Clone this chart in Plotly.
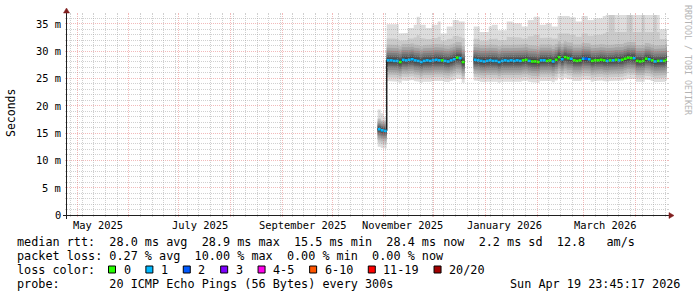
import math
import plotly.graph_objects as go
from datetime import datetime, timedelta

# ---------------- data ----------------
END = datetime(2026, 4, 19, 23, 45, 17)
START = END - timedelta(days=360)

T_FIRST = datetime(2025, 10, 28, 9, 50)
STEP = timedelta(hours=43.2)
EARLY_STEPS = 3

median_ms = [15.7, 15.5, 15.4,
             28.3, 28.3, 28.2, 28.2, 28.0, 28.4, 28.3, 28.4, 28.5, 28.3, 28.2, 28.0, 28.2,
             28.3, 28.2, 28.3, 28.4, 28.3, 28.3, 28.2, 28.1, 28.3, 28.5, 28.8, 28.7, 28.0,
             None, None, None,
             28.4, 28.3, 28.2, 28.1, 28.2, 28.3, 28.2, 28.2, 28.0, 28.2, 28.3, 28.2, 28.3,
             28.2, 28.3, 28.2, 28.3, 28.4, 28.2, 28.1, 28.1, 28.0, 28.3, 28.3, 28.2, 28.3,
             28.1, 28.4, 28.9, 28.5, 28.9, 28.7, 28.6, 28.3, 28.2, 28.3, 28.6, 28.6, 28.5,
             28.2, 28.3, 28.3, 28.4, 28.3, 28.2, 28.3, 28.3, 28.4, 28.3, 28.4, 28.6, 28.8,
             28.7, 28.7, 28.2, 28.1, 28.2, 28.6, 28.5, 28.3, 28.1, 28.2, 28.2, 28.2, 28.4]

loss_count = [1, 1, 1,
              1, 1, 1, 1, 0, 1, 1, 1, 1, 1, 1, 1, 1,
              1, 1, 1, 1, 1, 0, 1, 1, 1, 1, 0, 1, 0,
              None, None, None,
              1, 1, 1, 1, 1, 1, 1, 1, 1, 1, 1, 1, 1,
              1, 1, 1, 0, 0, 1, 0, 0, 0, 1, 1, 0, 0,
              1, 0, 0, 1, 0, 0, 1, 0, 0, 0, 1, 2, 1,
              0, 0, 0, 0, 0, 1, 0, 1, 0, 1, 0, 0, 0,
              0, 1, 0, 0, 0, 0, 1, 0, 1, 0, 1, 0, 0]

ping_max_ms = [19.3, 18.6, 18.0,
               34.9, 34.9, 34.9, 34.9, 33.2, 33.2, 33.3, 34.2, 34.2, 34.8, 36.3, 34.8, 34.8,
               34.2, 34.2, 34.8, 34.8, 35.4, 33.2, 33.2, 34.5, 34.5, 35.7, 35.7, 35.4, 35.4,
               None, None, None,
               34.5, 34.5, 33.5, 33.5, 33.5, 34.5, 34.8, 34.8, 33.8, 33.8, 33.8, 35.4, 35.4,
               35.1, 35.1, 35.1, 34.5, 34.5, 35.7, 35.7, 36.3, 36.3, 34.8, 34.8, 35.1, 35.1,
               34.5, 34.5, 36.4, 36.4, 36.4, 36.4, 36.2, 36.2, 35.4, 35.4, 36.4, 36.4, 35.7,
               35.7, 36.0, 36.0, 36.0, 36.4, 37.5, 37.5, 37.5, 37.5, 37.5, 37.5, 37.5, 37.5,
               37.5, 37.5, 37.5, 37.5, 37.5, 37.5, 37.5, 37.5, 37.5, 37.5, 34.0, 34.0, 34.0]

ping19_ms = [17.7, 17.2, 16.9,
             32.3, 32.4, 32.3, 32.2, 31.9, 31.9, 32.0, 32.3, 32.3, 32.5, 32.9, 32.4, 32.3,
             32.2, 32.2, 32.4, 32.4, 32.6, 31.9, 31.9, 32.2, 32.3, 32.7, 32.8, 32.6, 32.4,
             None, None, None,
             32.3, 32.2, 31.9, 31.9, 31.9, 32.2, 32.3, 32.3, 32.0, 32.0, 32.0, 32.6, 32.6,
             32.5, 32.5, 32.5, 32.3, 32.3, 32.7, 32.7, 33.0, 33.0, 32.4, 32.4, 32.5, 32.5,
             32.3, 32.3, 33.2, 33.2, 33.2, 33.2, 33.0, 33.0, 32.6, 32.6, 33.2, 33.2, 32.8,
             32.8, 33.0, 33.0, 33.0, 33.2, 33.5, 37.5, 37.5, 33.5, 33.5, 33.5, 33.5, 37.5,
             37.5, 33.5, 33.5, 33.5, 37.5, 33.5, 33.5, 33.5, 37.5, 33.5, 32.2, 32.2, 32.2]

# typical sorted pings 1..18, relative to the median (from the smoke shading)
early_offsets = [-3.2, -2.5, -2.0, -1.6, -1.3, -1.0, -0.75, -0.5, -0.3, -0.1,
                 0.1, 0.3, 0.5, 0.7, 0.9, 1.15, 1.45, 1.8]
main_offsets = [-3.8, -3.1, -2.6, -2.1, -1.7, -1.3, -1.0, -0.7, -0.4, -0.15,
                0.15, 0.4, 0.7, 1.0, 1.4, 1.8, 2.3, 2.9]

loss_classes = ["0", "1", "2", "3", "4-5", "6-10", "11-19", "20/20"]
loss_lo = [0, 1, 2, 3, 4, 6, 11, 20]
loss_hi = [0, 1, 2, 3, 5, 10, 19, 20]
loss_colors = ["#26ff00", "#00b8ff", "#0059ff", "#7e00ff", "#ff00ea", "#ff5500", "#ff0000", "#a10000"]

y_tick_vals = [0, 5, 10, 15, 20, 25, 30, 35]
y_tick_text = ["0", "5 m", "10 m", "15 m", "20 m", "25 m", "30 m", "35 m"]

x_label_text = ["May 2025", "July 2025", "September 2025", "November 2025", "January 2026", "March 2026"]
x_label_pos = ["2025-05-13 12:00", "2025-07-13 12:00", "2025-09-13 12:00",
               "2025-11-12 12:00", "2026-01-12 12:00", "2026-03-14 00:00"]

legend_line1 = "median rtt:  28.0 ms avg  28.9 ms max  15.5 ms min  28.4 ms now  2.2 ms sd  12.8   am/s"
legend_line2 = "packet loss: 0.27 % avg  10.00 % max  0.00 % min  0.00 % now"
legend_line3_head = "loss color:"
legend_line4 = "probe:       20 ICMP Echo Pings (56 Bytes) every 300s"
stamp_text = "Sun Apr 19 23:45:17 2026"
side_text = "RRDTOOL / TOBI OETIKER"

# ---------------- layout geometry ----------------
W, H = 697, 297
L, T, PW, PH = 67, 15, 600, 200
Y0 = T + PH
Y_MAX = 36.6
MONO = "DejaVu Sans Mono"

GRID_MINOR = "rgba(150,150,150,0.45)"
GRID_MAJOR = "rgba(225,90,90,0.42)"
AXIS_COL = "#1f1f1f"
ARROW_COL = "#801f1f"


def pxx(px):
    return (px - L) / PW


def pxy(py):
    return (Y0 - py) / PH


def date_px(d):
    return L + (d - START).total_seconds() / (END - START).total_seconds() * PW


def val_py(v):
    return Y0 - v / Y_MAX * PH


n = len(median_ms)
times = [T_FIRST + i * STEP for i in range(n + 1)]


def pings(i):
    offs = early_offsets if i < EARLY_STEPS else main_offsets
    return [median_ms[i] + o for o in offs] + [ping19_ms[i], ping_max_ms[i]]


def segments():
    i = 0
    while i < n:
        if median_ms[i] is None:
            i += 1
            continue
        j = i
        while j < n and median_ms[j] is not None:
            j += 1
        yield i, j
        i = j


fig = go.Figure()

# smoke: 10 bands, outer (light) to inner (dark)
for k in range(10):
    grey = int(190 / 10 * (10 - (k + 1))) + 50
    col = "#%02x%02x%02x" % (grey, grey, grey)
    xs, ys = [], []
    for a, b in segments():
        ux, uy, lx, ly = [], [], [], []
        for m in range(a, b):
            p = pings(m)
            ux += [times[m], times[m + 1]]
            uy += [p[19 - k], p[19 - k]]
            lx += [times[m], times[m + 1]]
            ly += [p[k], p[k]]
        xs += ux + lx[::-1] + [None]
        ys += uy + ly[::-1] + [None]
    fig.add_trace(go.Scatter(x=xs, y=ys, mode="lines", fill="toself", fillcolor=col,
                             line=dict(width=0, color=col), hoverinfo="skip", showlegend=False))

# thin dark median line
mx, my = [], []
for a, b in segments():
    for m in range(a, b):
        mx.append(times[m])
        my.append(median_ms[m])
    mx.append(times[b])
    my.append(median_ms[b - 1])
    mx.append(None)
    my.append(None)
fig.add_trace(go.Scatter(x=mx, y=my, mode="lines", line=dict(color="#202020", width=1, shape="hv"),
                         hoverinfo="skip", showlegend=False))
fig.add_trace(go.Scatter(x=[times[EARLY_STEPS], times[EARLY_STEPS]],
                         y=[median_ms[EARLY_STEPS - 1], median_ms[EARLY_STEPS]], mode="lines",
                         line=dict(color="#202020", width=1.3), hoverinfo="skip", showlegend=False))

# colored median by loss
for c in range(len(loss_classes)):
    cx, cy = [], []
    for m in range(n):
        if loss_count[m] is None:
            continue
        if loss_lo[c] <= loss_count[m] <= loss_hi[c]:
            cx += [times[m], times[m + 1], None]
            cy += [median_ms[m], median_ms[m], None]
    if cx:
        fig.add_trace(go.Scatter(x=cx, y=cy, mode="lines", line=dict(color=loss_colors[c], width=2.6),
                                 hoverinfo="skip", showlegend=False))

# ---------------- axes ----------------
fig.update_xaxes(type="date", range=[START, END], showticklabels=False, showgrid=False,
                 ticks="", zeroline=False, showline=False, fixedrange=True)
fig.update_yaxes(range=[0, Y_MAX], showticklabels=False, showgrid=False, ticks="",
                 zeroline=False, showline=False, fixedrange=True)

shapes = []


def seg(x0, y0, x1, y1, color, dash=None):
    line = dict(color=color, width=1)
    if dash:
        line["dash"] = dash
    shapes.append(dict(type="line", xref="paper", yref="paper", x0=pxx(x0), x1=pxx(x1),
                       y0=pxy(y0), y1=pxy(y1), line=line, layer="above"))


# grid positions
month_starts = []
d = datetime(2025, 5, 1)
while d < END:
    month_starts.append(d)
    d = datetime(d.year + (d.month // 12), d.month % 12 + 1, 1)
sundays = []
d = datetime(2025, 4, 27)
while d < END:
    if d not in month_starts:
        sundays.append(d)
    d += timedelta(days=7)

# horizontal grid (1 ms minor, 5 ms major)
for v in range(1, int(Y_MAX) + 1):
    major = v % 5 == 0
    col = GRID_MAJOR if major else GRID_MINOR
    py = math.floor(val_py(v)) + 0.5
    seg(L - 2, py, L, py, col)
    seg(L + PW, py, L + PW + 2, py, col)
    seg(L, py, L + PW, py, col, "1px,1px")

# vertical grid (weekly minor, monthly major)
for group, col in ((sundays, GRID_MINOR), (month_starts, GRID_MAJOR)):
    for d in group:
        px = math.floor(date_px(d)) + 0.5
        seg(px, Y0 + 2, px, Y0, col)
        seg(px, T, px, T - 2, col)
        seg(px, Y0, px, T, col, "1px,1px")

# axis lines
seg(L - 4, Y0 + 0.5, L + PW + 4, Y0 + 0.5, AXIS_COL)
seg(L - 0.5, Y0 + 4, L - 0.5, T - 4, AXIS_COL)
# arrows
shapes.append(dict(type="path", xref="paper", yref="paper", layer="above",
                   path="M %f %f L %f %f L %f %f Z" % (pxx(L - 3.5), pxy(T - 2), pxx(L + 2.5), pxy(T - 2),
                                                       pxx(L - 0.5), pxy(T - 7)),
                   fillcolor=ARROW_COL, line=dict(color=ARROW_COL, width=0.5)))
shapes.append(dict(type="path", xref="paper", yref="paper", layer="above",
                   path="M %f %f L %f %f L %f %f Z" % (pxx(L + PW + 2), pxy(Y0 - 2.5), pxx(L + PW + 2),
                                                       pxy(Y0 + 3.5), pxx(L + PW + 7), pxy(Y0 + 0.5)),
                   fillcolor=ARROW_COL, line=dict(color=ARROW_COL, width=0.5)))

annotations = []


def text_at(px, py, s, size=11.8, anchor="left", color="#000000", angle=0):
    annotations.append(dict(xref="paper", yref="paper", x=pxx(px), y=pxy(py), text=s.replace(" ", "\u00a0"),
                            showarrow=False, xanchor=anchor, yanchor="middle", borderpad=0, borderwidth=0,
                            textangle=angle, font=dict(family=MONO, size=size, color=color)))


# y tick labels (on the y scale)
for v, lab in zip(y_tick_vals, y_tick_text):
    annotations.append(dict(xref="paper", yref="y", x=pxx(61), y=v, text=lab.replace(" ", "\u00a0"),
                            showarrow=False, xanchor="right", yanchor="middle", borderpad=0, borderwidth=0,
                            font=dict(family=MONO, size=10.4, color="#000000")))

# x labels (on the time scale)
for lab, pos in zip(x_label_text, x_label_pos):
    annotations.append(dict(xref="x", yref="paper", x=pos, y=pxy(225), text=lab, showarrow=False,
                            xanchor="center", yanchor="middle", borderpad=0, borderwidth=0,
                            font=dict(family=MONO, size=10.4, color="#000000")))

# y title
text_at(10.5, 113.5, "Seconds", size=11.5, anchor="center", angle=-90)
# side text
text_at(688, 60, side_text, size=8.3, anchor="center", color="#b4b4b4", angle=90)

# legend
text_at(16.7, 242, legend_line1)
text_at(16.7, 256, legend_line2)
text_at(16.7, 270, legend_line3_head)
text_at(16.7, 284, legend_line4)
annotations.append(dict(xref="paper", yref="paper", x=pxx(680), y=pxy(284), text=stamp_text.replace(" ", "\u00a0"),
                        showarrow=False, xanchor="right", yanchor="middle", borderpad=0, borderwidth=0,
                        font=dict(family=MONO, size=11.8, color="#000000")))

bx = 108.5
for c, lab in enumerate(loss_classes):
    shapes.append(dict(type="rect", xref="paper", yref="paper", x0=pxx(bx), x1=pxx(bx + 7),
                       y0=pxy(266), y1=pxy(273), fillcolor=loss_colors[c],
                       line=dict(color="#000000", width=1), layer="above"))
    text_at(bx + 15, 270, lab)
    bx = bx + 15 + len(lab) * 7.09 + 15.3

fig.update_layout(width=W, height=H, autosize=False,
                  margin=dict(l=L, r=W - L - PW, t=T, b=H - T - PH, pad=0),
                  paper_bgcolor="#ffffff", plot_bgcolor="#ffffff",
                  shapes=shapes, annotations=annotations, showlegend=False)

fig.write_html("out.html")
